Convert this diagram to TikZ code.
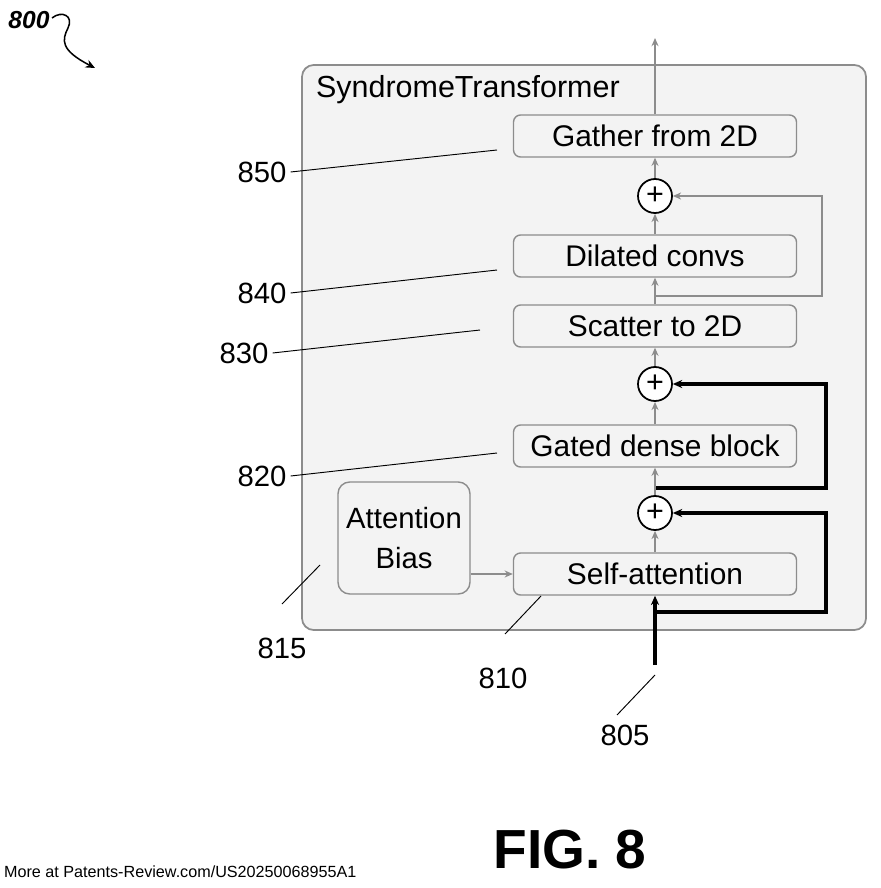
\documentclass[tikz,border=0pt]{standalone}
\usepackage{fontspec}
\setmainfont{Liberation Sans}
\usetikzlibrary{arrows.meta}
\definecolor{bx}{HTML}{F3F3F3}
\definecolor{ln}{HTML}{8C8C8C}
\begin{document}
\begin{tikzpicture}[x=0.3mm,y=-0.3mm,
 blk/.style={draw=ln,line width=1.2pt,fill=bx,rounded corners=6pt,minimum width=283*0.3mm,minimum height=42*0.3mm,font=\fontsize{25.5}{30}\selectfont,inner sep=0pt},
 pl/.style={draw=black,line width=1.5pt,circle,fill=white,minimum size=34*0.3mm,inner sep=0pt},
 ga/.style={draw=ln,line width=1.6pt,-{Stealth[length=7pt,width=6pt]}},
 ba/.style={draw=black,line width=2.6pt,-{Stealth[length=8pt,width=7pt]}},
 lab/.style={font=\fontsize{25}{30}\selectfont},
 ld/.style={draw=black,line width=0.8pt}]
\useasboundingbox (0,0) rectangle (880,888);
\node[draw=ln,line width=1.5pt,fill=bx,rounded corners=10pt,minimum width=564*0.3mm,minimum height=565*0.3mm] (outer) at (584,347.5) {};
\node[font=\fontsize{26}{30}\selectfont,anchor=west] (title) at (312,90) {SyndromeTransformer};
\node[blk] (g) at (655,136) {Gather from 2D};
\node[blk] (d) at (655,256) {Dilated convs};
\node[blk] (s) at (655,326) {Scatter to 2D};
\node[blk] (gd) at (655,446) {Gated dense block};
\node[blk] (sa) at (655,574) {Self-attention};
\node[draw=ln,line width=1.2pt,fill=bx,rounded corners=10pt,minimum width=132*0.3mm,minimum height=112*0.3mm,align=center,font=\fontsize{25}{34}\selectfont] (ab) at (404,538) {Attention\\Bias};
\node[pl] (p3) at (655,196) {\fontsize{26}{26}\selectfont +};
\node[pl] (p2) at (655,384) {\fontsize{26}{26}\selectfont +};
\node[pl] (p1) at (655,513) {\fontsize{26}{26}\selectfont +};
\coordinate (in) at (655,665);
\coordinate (out) at (655,38);
\coordinate (b1) at (655,612);
\coordinate (b2) at (655,488);
\coordinate (b3) at (655,296);
\draw[black,line width=2.6pt] (in) -- (b1);
\draw[ba] (b1) -- (sa.south);
\draw[ba] (b1) -- (826,612) -- (826,513) -- (p1.east);
\draw[ba] (b2) -- (826,488) -- (826,384) -- (p2.east);
\draw[ga] (sa.north) -- (p1.south);
\draw[ga] (p1.north) -- (gd.south);
\draw[ga] (gd.north) -- (p2.south);
\draw[ga] (p2.north) -- (s.south);
\draw[ga] (s.north) -- (d.south);
\draw[ga] (d.north) -- (p3.south);
\draw[ga] (p3.north) -- (g.south);
\draw[ga] (g.north) -- (out);
\draw[ga] (b3) -- (822,296) -- (822,196) -- (p3.east);
\draw[ga] (ab.east |- sa) -- (sa.west);
\node[lab] (l850) at (262,172) {850};
\node[lab] (l840) at (262,293) {840};
\node[lab] (l830) at (244,353) {830};
\node[lab] (l820) at (262,476) {820};
\node[lab] (l815) at (282,648) {815};
\node[lab] (l810) at (503,678) {810};
\node[lab] (l805) at (625,735) {805};
\draw[ld] (l850.east) -- (497,150);
\draw[ld] (l840.east) -- (497,270);
\draw[ld] (l830.east) -- (480,330);
\draw[ld] (l820.east) -- (497,453);
\draw[ld] (282,604) -- (320,565);
\draw[ld] (505,634) -- (541,596);
\draw[ld] (617,715) -- (655,675);
\node[font=\fontsize{21}{21}\selectfont\bfseries\itshape] (l800) at (29,20) {800};
\draw[line width=1.3pt,-{Stealth[length=8pt,width=7pt]}] (52,18) .. controls (62,10) and (74,16) .. (68,28) .. controls (62,40) and (60,50) .. (95,68);
\node[font=\fontsize{47}{47}\selectfont\bfseries] (fig) at (570,850) {FIG. 8};
\node[font=\fontsize{13.8}{14}\selectfont,anchor=west] (foot) at (0,872) {More at Patents-Review.com/US20250068955A1};
\end{tikzpicture}
\end{document}
